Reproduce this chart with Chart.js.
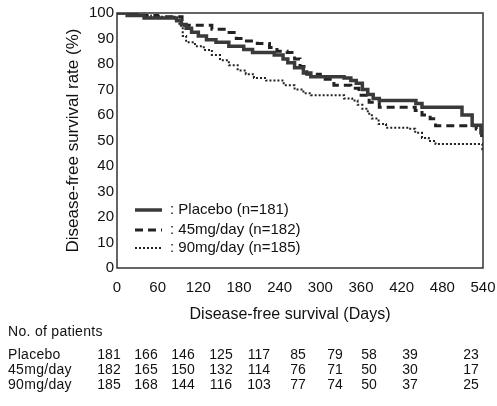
<!DOCTYPE html>
<html>
<head>
<meta charset="utf-8">
<script src="https://cdn.jsdelivr.net/npm/chart.js@4.4.1/dist/chart.umd.min.js"></script>
<style>
  html, body { margin: 0; padding: 0; background: #fff; }
  #wrap { position: relative; width: 497px; height: 406px; font-family: 'Liberation Sans', Arial, sans-serif; color: #111; }
  #chart { position: absolute; left: 0; top: 0; }
  .txt { position: absolute; font-size: 14px; line-height: 15px; white-space: nowrap; letter-spacing: 0.3px; }
  .num { transform: translateX(-50%); letter-spacing: 0; }
</style>
</head>
<body>
<div id="wrap">
  <canvas id="chart" width="497" height="406"></canvas>
  <div id="table"></div>
</div>
<script>
// ===== データ=====
const xTicks = [0, 60, 120, 180, 240, 300, 360, 420, 480, 540];

const placeboDays = [0, 15, 40, 88, 95, 102, 110, 120, 132, 146, 165, 187, 200, 232, 245, 252, 262, 275, 286, 335, 345, 353, 362, 370, 378, 387, 441, 450, 509, 524, 537, 540];
const placeboSurv = [100, 99, 98, 97, 95.5, 94, 92.5, 91, 89.5, 88.5, 87, 85.7, 84.5, 83.5, 82, 80.5, 78.5, 76.5, 75, 74.5, 73.5, 72.5, 70, 68, 66.5, 65.7, 64.5, 63, 60, 56, 53, 53];

const mg45Days = [0, 30, 60, 96, 140, 162, 176, 187, 207, 225, 236, 251, 262, 270, 280, 300, 320, 345, 357, 372, 387, 440, 450, 462, 470, 530, 538, 540];
const mg45Surv = [100, 99, 98.5, 95.2, 93.6, 92.4, 90, 89, 88, 86.5, 85, 84.5, 82, 79, 76, 74, 71.7, 70.5, 67.7, 65, 63, 61.8, 60, 58.5, 55.8, 54.5, 52, 50];

const mg90Days = [0, 20, 50, 85, 92, 97, 102, 115, 128, 140, 152, 165, 178, 190, 202, 220, 246, 262, 275, 286, 335, 347, 355, 362, 370, 376, 386, 397, 431, 440, 450, 460, 470, 531, 539, 540];
const mg90Surv = [100, 99, 98.5, 97.5, 95, 91, 88.5, 87, 85.5, 83.5, 81.5, 79.5, 77.5, 76, 74.5, 73.5, 71.7, 70, 68.5, 67.7, 66.5, 65.7, 64, 62.5, 60.5, 58.6, 56.5, 55, 54.6, 53, 51, 49.8, 48.6, 48.6, 46.6, 46.6];

// ===== リスク集合（No. of patients）=====
const groupNames = ['Placebo', '45mg/day', '90mg/day'];
const atRiskPlacebo = [181, 166, 146, 125, 117, 85, 79, 58, 39, 23];
const atRisk45 = [182, 165, 150, 132, 114, 76, 71, 50, 30, 17];
const atRisk90 = [185, 168, 144, 116, 103, 77, 74, 50, 37, 25];

// 表のレイアウト（列の中心x、行の中心y）
const colX = [109, 146, 183, 221, 259, 298, 335, 369, 410, 471];
const rowY = [354, 369, 384];

const FONT = "'Liberation Sans', Arial, sans-serif";
Chart.defaults.font.family = FONT;
Chart.defaults.color = '#111';

const toPts = (d, s) => d.map((x, i) => ({ x, y: s[i] }));

// ===== 枠線・凡例・x軸タイトル =====
const framePlugin = {
  id: 'frame',
  afterDatasetsDraw(chart) {
    const { ctx, chartArea: a } = chart;
    ctx.save();
    ctx.strokeStyle = '#333';
    ctx.lineWidth = 1.5;
    ctx.strokeRect(a.left, a.top, a.right - a.left, a.bottom - a.top);

    // 凡例
    const rows = [210, 230, 248];
    ctx.font = `15px ${FONT}`;
    ctx.textBaseline = 'middle';
    chart.data.datasets.forEach((ds, i) => {
      const y = rows[i];
      ctx.strokeStyle = ds.borderColor;
      ctx.lineWidth = ds.borderWidth;
      ctx.setLineDash(ds.borderDash || []);
      ctx.beginPath();
      ctx.moveTo(a.left + 18, y);
      ctx.lineTo(a.left + 45, y);
      ctx.stroke();
      ctx.setLineDash([]);
      ctx.fillStyle = '#111';
      ctx.fillText(': ' + ds.label, a.left + 53, y);
    });

    // x軸タイトル（少し左寄り）
    ctx.font = `16px ${FONT}`;
    ctx.textAlign = 'center';
    ctx.fillText('Disease-free survival (Days)', a.left + 173, a.bottom + 47);
    ctx.restore();
  }
};

new Chart(document.getElementById('chart'), {
  type: 'line',
  data: {
    datasets: [
      {
        label: 'Placebo (n=181)',
        data: toPts(placeboDays, placeboSurv),
        borderColor: '#3a3a3a',
        borderWidth: 3.5,
        stepped: true,
        pointRadius: 0,
        order: 1,
      },
      {
        label: '45mg/day (n=182)',
        data: toPts(mg45Days, mg45Surv),
        borderColor: '#222',
        borderWidth: 3,
        borderDash: [8, 5],
        stepped: true,
        pointRadius: 0,
        order: 2,
      },
      {
        label: '90mg/day (n=185)',
        data: toPts(mg90Days, mg90Surv),
        borderColor: '#222',
        borderWidth: 2,
        borderDash: [2, 2],
        stepped: true,
        pointRadius: 0,
        order: 3,
      },
    ]
  },
  options: {
    responsive: false,
    animation: false,
    layout: { padding: { left: 63, top: 13, right: 14, bottom: 81 } },
    plugins: { legend: { display: false }, tooltip: { enabled: false } },
    scales: {
      x: {
        type: 'linear', min: 0, max: 540,
        afterBuildTicks: s => { s.ticks = xTicks.map(v => ({ value: v })); },
        afterFit: s => { s.height = 57; s.paddingLeft = 0; s.paddingRight = 0; },
        grid: { display: false, drawTicks: false },
        border: { display: false },
        ticks: { padding: 11, font: { size: 15 }, color: '#111' },
      },
      y: {
        min: 0, max: 100,
        afterFit: s => { s.width = 54; s.paddingTop = 0; s.paddingBottom = 0; },
        grid: { display: false, drawTicks: false },
        border: { display: false },
        ticks: { stepSize: 10, padding: 3, font: { size: 15 }, color: '#111' },
        title: { display: true, text: 'Disease-free survival rate (%)', font: { size: 17 }, padding: 0, color: '#111' },
      }
    }
  },
  plugins: [framePlugin]
});

// ===== 患者数テーブル =====
function renderTable() {
  const rows = [atRiskPlacebo, atRisk45, atRisk90];
  let html = `<div class="txt" style="left:8px;top:${rowY[0] - 30}px">No. of patients</div>`;
  rows.forEach((vals, r) => {
    html += `<div class="txt" style="left:8px;top:${rowY[r] - 7}px">${groupNames[r]}</div>`;
    vals.forEach((v, c) => {
      html += `<div class="txt num" style="left:${colX[c]}px;top:${rowY[r] - 7}px">${v}</div>`;
    });
  });
  document.getElementById('table').innerHTML = html;
}
renderTable();
</script>
</body>
</html>
